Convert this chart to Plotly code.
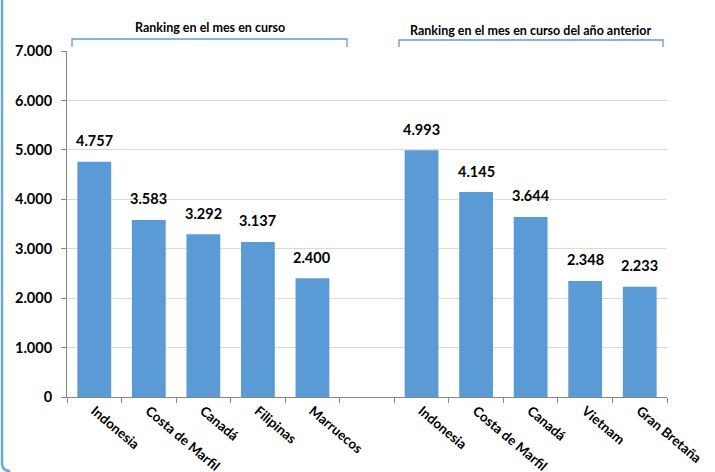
import plotly.graph_objects as go

# Data
ids = ["c1", "c2", "c3", "c4", "c5", "gap", "p1", "p2", "p3", "p4", "p5"]
labels = ["Indonesia", "Costa de Marfil", "Canadá", "Filipinas", "Marruecos", "",
          "Indonesia", "Costa de Marfil", "Canadá", "Vietnam", "Gran Bretaña"]
values = [4757, 3583, 3292, 3137, 2400, None, 4993, 4145, 3644, 2348, 2233]
text_vals = ["4.757", "3.583", "3.292", "3.137", "2.400", "",
             "4.993", "4.145", "3.644", "2.348", "2.233"]
y_ticks = [0, 1000, 2000, 3000, 4000, 5000, 6000, 7000]
header_left = "Ranking en el mes en curso"
header_right = "Ranking en el mes en curso del año anterior"

FONT = "Lato"
BLUE = "#5B9BD5"

fig = go.Figure()
fig.add_trace(go.Bar(
    x=ids, y=values,
    marker=dict(color=BLUE, line=dict(width=0)),
    hoverinfo="skip",
))

L, R, T, B = 67, 48, 51, 75
W, H = 715, 472
pw, ph = W - L - R, H - T - B


def xp(px):
    return (px - L) / pw


def yp(py):
    return (H - B - py) / ph


shapes = []
# brackets
for x0, x1, ytop, ybot in [(72, 347, 39, 47), (399, 663, 40, 47)]:
    shapes.append(dict(
        type="path", xref="paper", yref="paper",
        path=f"M {xp(x0)},{yp(ybot)} L {xp(x0)},{yp(ytop)} L {xp(x1)},{yp(ytop)} L {xp(x1)},{yp(ybot)}",
        line=dict(color=BLUE, width=1.3)))
# left frame border
bx = xp(2)
shapes.append(dict(
    type="path", xref="paper", yref="paper",
    path=f"M {bx},{yp(-5)} L {bx},{yp(463)} Q {bx},{yp(471)} {xp(10)},{yp(471)}",
    line=dict(color="#6FA8DC", width=2.5)))

annotations = [
    dict(text=header_left, xref="paper", yref="paper", x=xp(209.7), y=yp(27),
         showarrow=False, xanchor="center", yanchor="middle",
         font=dict(family=FONT, size=12.5, color="#000000", weight="bold")),
    dict(text=header_right, xref="paper", yref="paper", x=xp(530.5), y=yp(30),
         showarrow=False, xanchor="center", yanchor="middle",
         font=dict(family=FONT, size=12.5, color="#000000", weight="bold")),
]
for cid, v, t in zip(ids, values, text_vals):
    if v is None:
        continue
    annotations.append(dict(
        text=t, x=cid, y=v, xref="x", yref="y", showarrow=False,
        xanchor="center", yanchor="middle", yshift=21,
        font=dict(family=FONT, size=14.5, color="#000000", weight="bold")))

fig.update_layout(
    width=W, height=H,
    margin=dict(l=L, r=R, t=T, b=B),
    paper_bgcolor="white", plot_bgcolor="white",
    bargap=0.38, showlegend=False,
    shapes=shapes, annotations=annotations,
    xaxis=dict(
        type="category", categoryorder="array", categoryarray=ids,
        tickmode="array", tickvals=ids, ticktext=labels,
        tickson="boundaries", ticks="outside", ticklen=5, tickcolor="#868686",
        tickangle=40, showgrid=False, showline=True, linecolor="#868686", linewidth=1,
        range=[-0.5, 10.5], automargin=False,
        tickfont=dict(family=FONT, size=13.5, color="#000000", weight="bold"),
    ),
    yaxis=dict(
        range=[0, 7000], tickmode="array", tickvals=y_ticks,
        ticktext=[f"{v:,}".replace(",", ".") for v in y_ticks],
        showgrid=True, gridcolor="#D9D9D9", gridwidth=1,
        showline=True, linecolor="#868686", linewidth=1,
        ticks="outside", ticklen=5, tickcolor="#868686",
        zeroline=False, automargin=False, ticklabelstandoff=6,
        tickfont=dict(family=FONT, size=14.5, color="#000000", weight="bold"),
    ),
)

fig.write_html("out.html", config={"displayModeBar": False},
               post_script="document.body.style.margin='0';")
